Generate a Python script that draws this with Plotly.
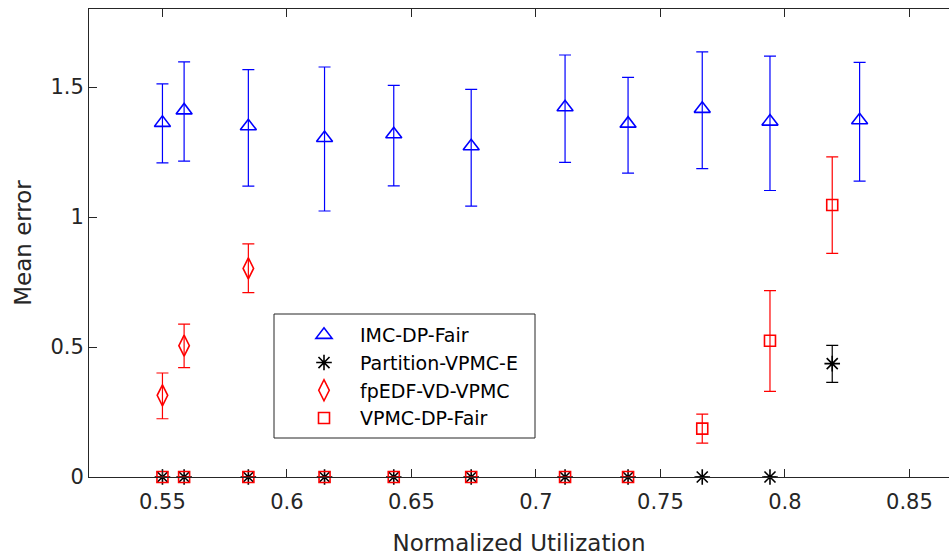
import plotly.graph_objects as go

# ---- data ----
imc_x = [0.55, 0.5587, 0.5845, 0.6151, 0.6429, 0.674, 0.7117, 0.737, 0.7668, 0.794, 0.83]
imc_y = [1.362, 1.41, 1.349, 1.304, 1.318, 1.272, 1.422, 1.359, 1.416, 1.367, 1.372]
imc_hi = [1.512, 1.597, 1.567, 1.577, 1.506, 1.491, 1.623, 1.537, 1.635, 1.619, 1.595]
imc_lo = [1.208, 1.215, 1.119, 1.023, 1.120, 1.042, 1.210, 1.169, 1.186, 1.102, 1.138]

part_x = [0.55, 0.5587, 0.5845, 0.6151, 0.6429, 0.674, 0.7117, 0.737, 0.7668, 0.794, 0.819]
part_y = [0, 0, 0, 0, 0, 0, 0, 0, 0, 0, 0.436]
part_hi = [0, 0, 0, 0, 0, 0, 0, 0, 0, 0, 0.506]
part_lo = [0, 0, 0, 0, 0, 0, 0, 0, 0, 0, 0.364]

fped_x = [0.55, 0.5587, 0.5845]
fped_y = [0.314, 0.505, 0.802]
fped_hi = [0.400, 0.588, 0.897]
fped_lo = [0.224, 0.421, 0.709]

vpmc_x = [0.55, 0.5587, 0.5845, 0.6151, 0.6429, 0.674, 0.7117, 0.737, 0.7668, 0.794, 0.819]
vpmc_y = [0, 0, 0, 0, 0, 0, 0, 0, 0.186, 0.524, 1.046]
vpmc_hi = [0, 0, 0, 0, 0, 0, 0, 0, 0.242, 0.717, 1.231]
vpmc_lo = [0, 0, 0, 0, 0, 0, 0, 0, 0.130, 0.329, 0.860]

x_ticks = [0.55, 0.6, 0.65, 0.7, 0.75, 0.8, 0.85]
x_tick_labels = ["0.55", "0.6", "0.65", "0.7", "0.75", "0.8", "0.85"]
y_ticks = [0, 0.5, 1, 1.5]
y_tick_labels = ["0", "0.5", "1", "1.5"]

AX = "#262626"
FONT = "DejaVu Sans"


def err(y, hi, lo):
    return dict(type="data", symmetric=False,
                array=[h - v for h, v in zip(hi, y)],
                arrayminus=[v - l for v, l in zip(y, lo)])


series = [
    ("IMC-DP-Fair", imc_x, imc_y, imc_hi, imc_lo, "#0000ff", "triangle-up-open", 14),
    ("Partition-VPMC-E", part_x, part_y, part_hi, part_lo, "#000000", "asterisk-open", 13),
    ("fpEDF-VD-VPMC", fped_x, fped_y, fped_hi, fped_lo, "#ff0000", "diamond-tall-open", 15),
    ("VPMC-DP-Fair", vpmc_x, vpmc_y, vpmc_hi, vpmc_lo, "#ff0000", "square-open", 11),
]

fig = go.Figure()
for name, xs, ys, hi, lo, col, sym, sz in series:
    e = err(ys, hi, lo)
    e.update(color=col, thickness=1.2, width=6)
    fig.add_trace(go.Scatter(
        x=xs, y=ys, name=name, mode="markers", cliponaxis=False,
        marker=dict(symbol=sym, size=sz, color=col, line=dict(color=col, width=1.6)),
        error_y=e,
    ))

# legend frame (MATLAB-style box), legend itself drawn without border
fig.add_shape(type="rect", xref="paper", yref="paper",
              x0=(274 - 89) / 860, x1=(535 - 89) / 860,
              y0=(477 - 438) / 468, y1=(477 - 314) / 468,
              line=dict(color=AX, width=1), fillcolor="white", layer="above")

fig.update_layout(
    width=949, height=556,
    margin=dict(l=89, r=0, t=9, b=79),
    plot_bgcolor="white", paper_bgcolor="white",
    font=dict(family=FONT, size=21, color=AX),
    showlegend=True,
    legend=dict(x=(288 - 89) / 860, y=(477 - 316) / 468, xanchor="left", yanchor="top",
                bgcolor="rgba(0,0,0,0)", borderwidth=0,
                font=dict(family=FONT, size=19, color="#000000"),
                tracegroupgap=0, itemwidth=62),
)
fig.update_xaxes(
    range=[0.5205, 0.8659], tickvals=x_ticks, ticktext=x_tick_labels,
    showgrid=False, zeroline=False, showline=True, linecolor=AX, linewidth=1,
    mirror="ticks", ticks="inside", ticklen=8, tickcolor=AX, ticklabelstandoff=6,
    title=dict(text="Normalized Utilization", font=dict(size=23, color=AX), standoff=22),
)
fig.update_yaxes(
    range=[0, 1.8], tickvals=y_ticks, ticktext=y_tick_labels,
    showgrid=False, zeroline=False, showline=True, linecolor=AX, linewidth=1,
    mirror=False, ticks="inside", ticklen=8, tickcolor=AX,
    title=dict(text="Mean error", font=dict(size=23, color=AX), standoff=12),
)

fig.write_html("out.html")
